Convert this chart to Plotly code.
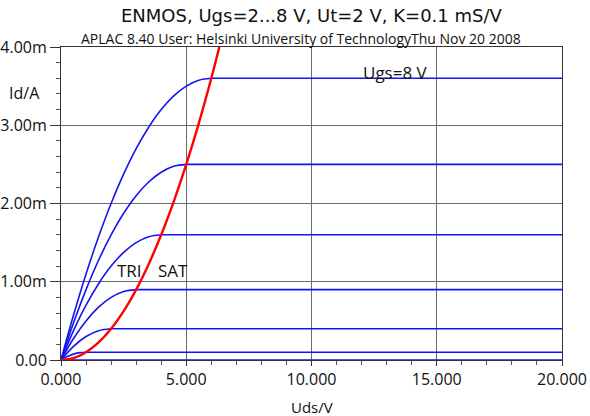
import plotly.graph_objects as go

# ---- data ----
uds_tri_8 = [0, 0.5, 1, 1.5, 2, 2.5, 3, 3.5, 4, 4.5, 5, 5.5, 6]
id_tri_8 = [0, 0.575, 1.1, 1.575, 2.0, 2.375, 2.7, 2.975, 3.2, 3.375, 3.5, 3.575, 3.6]
uds_tri_7 = [0, 0.5, 1, 1.5, 2, 2.5, 3, 3.5, 4, 4.5, 5]
id_tri_7 = [0, 0.475, 0.9, 1.275, 1.6, 1.875, 2.1, 2.275, 2.4, 2.475, 2.5]
uds_tri_6 = [0, 0.5, 1, 1.5, 2, 2.5, 3, 3.5, 4]
id_tri_6 = [0, 0.375, 0.7, 0.975, 1.2, 1.375, 1.5, 1.575, 1.6]
uds_tri_5 = [0, 0.5, 1, 1.5, 2, 2.5, 3]
id_tri_5 = [0, 0.275, 0.5, 0.675, 0.8, 0.875, 0.9]
uds_tri_4 = [0, 0.5, 1, 1.5, 2]
id_tri_4 = [0, 0.175, 0.3, 0.375, 0.4]
uds_tri_3 = [0, 0.25, 0.5, 0.75, 1]
id_tri_3 = [0, 0.044, 0.075, 0.094, 0.1]
uds_tri_2 = [0]
id_tri_2 = [0]

ugs_values = [8, 7, 6, 5, 4, 3, 2]
id_sat_mA = [3.6, 2.5, 1.6, 0.9, 0.4, 0.1, 0.0]
uds_max = 20

uds_bound = [0, 0.5, 1, 1.5, 2, 2.5, 3, 3.5, 4, 4.5, 5, 5.5, 6, 6.32]
id_bound = [0, 0.025, 0.1, 0.225, 0.4, 0.625, 0.9, 1.225, 1.6, 2.025, 2.5, 3.025, 3.6, 4.0]

x_tickvals = [0, 5, 10, 15, 20]
x_ticktext = ["0.000", "5.000", "10.000", "15.000", "20.000"]
y_tickvals_mA = [0, 1, 2, 3, 4]
y_ticktext = ["0.00", "1.00m", "2.00m", "3.00m", "4.00m"]

BLUE = "#1414f0"
RED = "#ff0000"
FONT = "Open Sans"

tri_x = [uds_tri_8, uds_tri_7, uds_tri_6, uds_tri_5, uds_tri_4, uds_tri_3, uds_tri_2]
tri_y = [id_tri_8, id_tri_7, id_tri_6, id_tri_5, id_tri_4, id_tri_3, id_tri_2]

fig = go.Figure()
for ugs, xs, ys, isat in zip(ugs_values, tri_x, tri_y, id_sat_mA):
    if len(xs) > 1:
        fig.add_trace(go.Scatter(x=xs, y=[v * 1e-3 for v in ys], mode="lines",
                                 line=dict(color=BLUE, width=1.6, shape="spline"),
                                 showlegend=False, hoverinfo="skip"))
    fig.add_trace(go.Scatter(x=[xs[-1], uds_max], y=[isat * 1e-3, isat * 1e-3], mode="lines",
                             line=dict(color=BLUE, width=1.6),
                             showlegend=False, hoverinfo="skip"))

fig.add_trace(go.Scatter(x=uds_bound, y=[v * 1e-3 for v in id_bound], mode="lines",
                         line=dict(color=RED, width=2.4, shape="spline"),
                         showlegend=False, hoverinfo="skip"))

axis_common = dict(showline=True, linecolor="#333333", linewidth=1, mirror=True,
                   showgrid=True, gridcolor="#6a6a6a", gridwidth=1, zeroline=False,
                   ticks="outside", tickcolor="#333333", automargin=False,
                   tickfont=dict(family=FONT, size=16, color="#111111"))

fig.update_xaxes(range=[0, 20], tickvals=x_tickvals, ticktext=x_ticktext, ticklen=5,
                 minor=dict(dtick=1, ticks="outside", ticklen=4, tickcolor="#555555", showgrid=False),
                 **axis_common)
fig.update_yaxes(range=[0, 0.004], tickvals=[v * 1e-3 for v in y_tickvals_mA], ticktext=y_ticktext,
                 ticklen=10,
                 minor=dict(dtick=0.0002, ticks="outside", ticklen=4, tickcolor="#555555", showgrid=False),
                 **axis_common)

ann = [
    dict(text="ENMOS, Ugs=2...8 V, Ut=2 V, K=0.1 mS/V", xref="paper", yref="paper",
         x=0.5, y=(360 - 16) / 313, font=dict(size=18, family="DejaVu Sans")),
    dict(text="APLAC 8.40 User: Helsinki University of TechnologyThu Nov 20 2008", xref="paper", yref="paper",
         x=0.48, y=(360 - 38.5) / 313, font=dict(size=14)),
    dict(text="Id/A", xref="paper", yref="paper", x=-0.072, y=0.853, font=dict(size=16)),
    dict(text="Uds/V", xref="paper", yref="paper", x=0.501, y=(360 - 406.5) / 313, font=dict(size=15)),
    dict(text="TRI", x=2.75, y=0.00115, font=dict(size=17)),
    dict(text="SAT", x=4.47, y=0.00115, font=dict(size=17)),
    dict(text="Ugs=8 V", x=14.75, y=0.003668, xanchor="right", font=dict(size=17)),
]
for a in ann:
    a.setdefault("xanchor", "center")
    a["yanchor"] = "middle"
    a["showarrow"] = False
    a["font"].setdefault("family", FONT)
    a["font"]["color"] = "#111111"
    fig.add_annotation(**a)

fig.update_layout(width=590, height=416, margin=dict(l=61, r=28, t=47, b=56),
                  paper_bgcolor="white", plot_bgcolor="white",
                  font=dict(family=FONT, color="#111111"))

fig.write_html("out.html", config={"displayModeBar": False},
               post_script="document.body.style.margin='0px';")
